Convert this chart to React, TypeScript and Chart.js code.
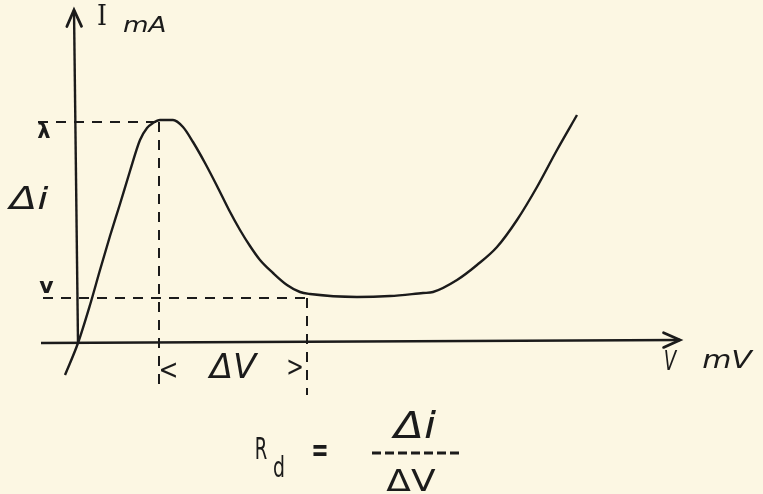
import React, { useEffect, useRef } from "react";
import { Chart, registerables } from "chart.js";

Chart.register(...registerables);

// Tunnel-diode characteristic (V in mV, I in mA — schematic units)
const curveV = [-11, 2, 14, 24, 34, 44, 54, 64, 71, 77, 84, 97, 107, 117, 129, 141, 153, 164, 174, 184, 197, 211, 224, 234, 281, 314, 347, 357, 381, 401, 421, 441, 461, 481, 501];
const curveI = [-3.2, 0, 3.8, 7.3, 10.7, 13.9, 17.2, 20.3, 21.5, 22.0, 22.3, 22.3, 21.6, 20.1, 18.0, 15.7, 13.3, 11.3, 9.7, 8.3, 7.0, 5.8, 5.1, 4.9, 4.6, 4.7, 5.0, 5.1, 6.3, 7.8, 9.6, 12.3, 15.6, 19.3, 22.8];

// axes drawn as lines
const xAxisV = [-35, 604];
const xAxisI = [0, 0.3];
const yAxisV = [2, -2];
const yAxisI = [0, 33.3];

// peak and valley reference values
const peakV = 83;
const peakI = 22.1;
const valleyV = 231;
const valleyI = 4.5;
const guideLeftPeak = -38;
const guideLeftValley = -33;
const peakDrop = -4.7;
const valleyDrop = -5.2;

const xRange = [-76, 687];
const yRange = [-15.1, 34.3];

type Label = {
  text: string;
  v: number;
  i: number;
  font: string;
  align?: CanvasTextAlign;
  sx?: number;
};

const labels: Label[] = [
  { text: "I", v: 26, i: 32.5, font: "28px 'DejaVu Serif'", sx: 0.9 },
  { text: "mA", v: 47, i: 31.6, font: "italic 21px 'DejaVu Sans'", align: "left", sx: 1.25 },
  { text: "λ", v: -32, i: 21.0, font: "bold 21px 'DejaVu Sans'" },
  { text: "Δi", v: -47, i: 14.2, font: "italic 31px 'DejaVu Sans'", sx: 1.3 },
  { text: "v", v: -29.5, i: 5.6, font: "bold 22px 'DejaVu Sans'" },
  { text: "<", v: 92.5, i: -2.9, font: "28px 'DejaVu Sans'", sx: 0.85 },
  { text: "ΔV", v: 157, i: -2.6, font: "italic 34px 'DejaVu Sans'" },
  { text: ">", v: 219, i: -2.6, font: "28px 'DejaVu Sans'", sx: 0.75 },
  { text: "V", v: 594, i: -2.0, font: "italic 26px 'DejaVu Sans'", sx: 0.7 },
  { text: "mV", v: 651, i: -1.9, font: "italic 24px 'DejaVu Sans'", sx: 1.25 },
  { text: "R", v: 185, i: -10.8, font: "31px 'DejaVu Sans'", sx: 0.58 },
  { text: "d", v: 203, i: -12.6, font: "29px 'DejaVu Sans'", sx: 0.65 },
  { text: "=", v: 244, i: -11.0, font: "bold 32px 'DejaVu Sans'", sx: 0.65 },
  { text: "Δi", v: 339, i: -8.5, font: "italic 38px 'DejaVu Sans'", sx: 1.15 },
  { text: "ΔV", v: 335, i: -14.0, font: "30px 'DejaVu Sans'", sx: 1.2 },
];

const fractionV = [296, 387];
const fractionI = -11.0;

const ink = "#1b1b1b";

const pts = (xs: number[], ys: number[]) => xs.map((x, k) => ({ x, y: ys[k] }));

const drawPlugin = {
  id: "sketchExtras",
  afterDatasetsDraw(chart: any) {
    const ctx: CanvasRenderingContext2D = chart.ctx;
    const xs = chart.scales.x;
    const ys = chart.scales.y;
    // arrowheads
    chart.data.datasets.forEach((ds: any) => {
      if (!ds.arrow) return;
      const d = ds.data;
      const a = d[d.length - 2];
      const b = d[d.length - 1];
      const ax = xs.getPixelForValue(a.x), ay = ys.getPixelForValue(a.y);
      const bx = xs.getPixelForValue(b.x), by = ys.getPixelForValue(b.y);
      const ang = Math.atan2(by - ay, bx - ax);
      const len = 18, spread = 0.42;
      ctx.save();
      ctx.strokeStyle = ink;
      ctx.lineWidth = 2.8;
      ctx.lineCap = "round";
      ctx.beginPath();
      ctx.moveTo(bx - len * Math.cos(ang - spread), by - len * Math.sin(ang - spread));
      ctx.lineTo(bx, by);
      ctx.lineTo(bx - len * Math.cos(ang + spread), by - len * Math.sin(ang + spread));
      ctx.stroke();
      ctx.restore();
    });
    // fraction bar
    ctx.save();
    ctx.strokeStyle = ink;
    ctx.lineWidth = 3.2;
    ctx.setLineDash([9, 4]);
    ctx.beginPath();
    ctx.moveTo(xs.getPixelForValue(fractionV[0]), ys.getPixelForValue(fractionI));
    ctx.lineTo(xs.getPixelForValue(fractionV[1]), ys.getPixelForValue(fractionI));
    ctx.stroke();
    ctx.restore();
    // text labels
    labels.forEach((l) => {
      const px = xs.getPixelForValue(l.v);
      const py = ys.getPixelForValue(l.i);
      ctx.save();
      ctx.fillStyle = ink;
      ctx.font = l.font;
      ctx.textAlign = l.align || "center";
      ctx.textBaseline = "middle";
      ctx.translate(px, py);
      ctx.scale(l.sx || 1, 1);
      ctx.fillText(l.text, 0, 0);
      ctx.restore();
    });
  },
};

export default function App() {
  const ref = useRef<HTMLCanvasElement | null>(null);
  useEffect(() => {
    if (!ref.current) return;
    const dashed = { borderColor: ink, borderWidth: 2, borderDash: [10, 8], pointRadius: 0, fill: false, tension: 0 };
    const chart = new Chart(ref.current, {
      type: "line",
      data: {
        datasets: [
          {
            data: pts(curveV, curveI),
            borderColor: ink,
            borderWidth: 2.4,
            pointRadius: 0,
            cubicInterpolationMode: "monotone",
            fill: false,
          },
          { data: pts(xAxisV, xAxisI), borderColor: ink, borderWidth: 2.6, pointRadius: 0, arrow: true } as any,
          { data: pts(yAxisV, yAxisI), borderColor: ink, borderWidth: 2.4, pointRadius: 0, arrow: true } as any,
          { ...dashed, data: [{ x: guideLeftPeak, y: peakI }, { x: peakV, y: peakI }] },
          { ...dashed, data: [{ x: peakV, y: peakI }, { x: peakV, y: peakDrop }] },
          { ...dashed, data: [{ x: guideLeftValley, y: valleyI }, { x: valleyV, y: valleyI }] },
          { ...dashed, data: [{ x: valleyV, y: valleyI }, { x: valleyV, y: valleyDrop }] },
        ],
      },
      options: {
        animation: false,
        responsive: false,
        devicePixelRatio: 1,
        layout: { padding: 0 },
        plugins: { legend: { display: false }, tooltip: { enabled: false } },
        scales: {
          x: { type: "linear", min: xRange[0], max: xRange[1], display: false },
          y: { type: "linear", min: yRange[0], max: yRange[1], display: false },
        },
      },
      plugins: [drawPlugin],
    });
    return () => chart.destroy();
  }, []);
  return (
    <div style={{ position: "fixed", left: 0, top: 0, width: 763, height: 494, background: "#fcf7e3" }}>
      <canvas ref={ref} width={763} height={494} style={{ display: "block" }} />
    </div>
  );
}
